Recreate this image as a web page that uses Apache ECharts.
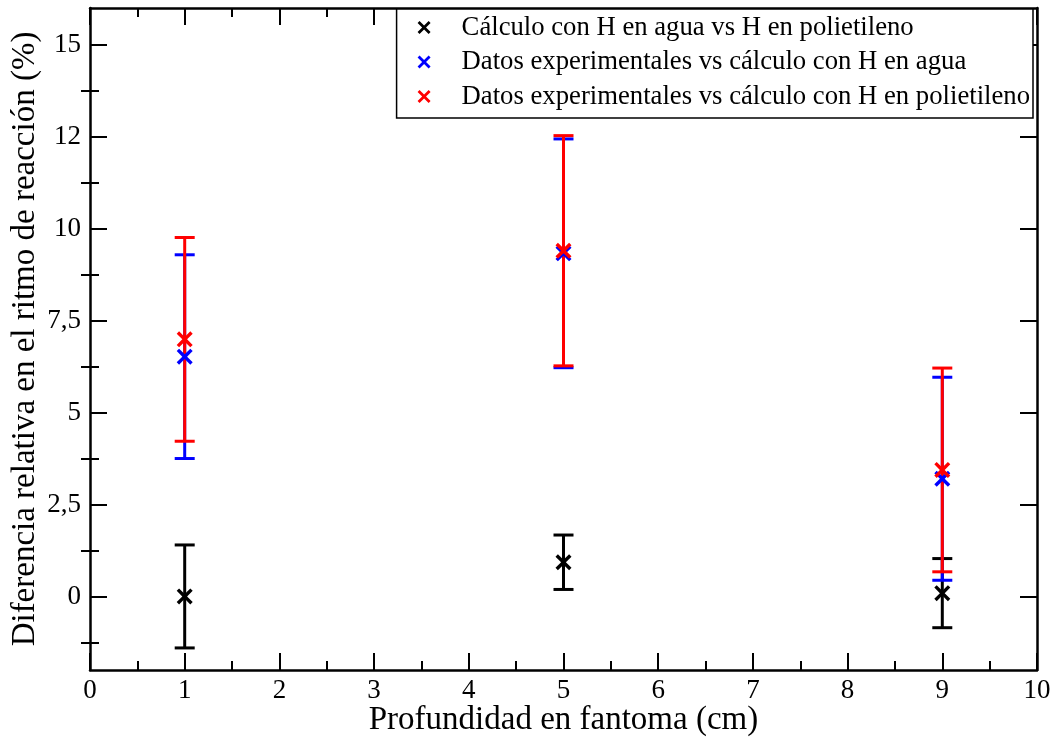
<!DOCTYPE html>
<html>
<head>
<meta charset="utf-8">
<script src="https://cdn.jsdelivr.net/npm/echarts@6/dist/echarts.min.js"></script>
<style>
  html, body { margin: 0; padding: 0; background: #fff; }
  #chart { width: 1055px; height: 740px; }
</style>
</head>
<body>
<div id="chart"></div>
<script>
// Depth in the phantom (cm)
const depth = [1, 5, 9];

// H in water vs H in polyethylene (calculation)
const calcVal = [0.0, 0.93, 0.09];
const calcErr = [1.40, 0.74, 0.94];

// Experimental vs calculation with H in water
const aguaVal = [6.52, 9.33, 3.20];
const aguaErr = [2.77, 3.11, 2.76];

// Experimental vs calculation with H in polyethylene
const polyVal = [6.99, 9.40, 3.44];
const polyErr = [2.77, 3.13, 2.77];

// Axis tick positions
const yMajor = [0, 2.5, 5, 7.5, 10, 12.5, 15];
const yMinor = [-1.25, 1.25, 3.75, 6.25, 8.75, 11.25, 13.75];
const yLabels = { '0': '0', '2.5': '2,5', '5': '5', '7.5': '7,5', '10': '10', '12.5': '12', '15': '15' };

const seriesNames = [
  'Cálculo con H en agua vs H en polietileno',
  'Datos experimentales vs cálculo con H en agua',
  'Datos experimentales vs cálculo con H en polietileno'
];
const colors = ['#000000', '#0000ff', '#ff0000'];

const FONT = 'Liberation Serif';
// Thick "x" cross drawn as a filled outline
const CROSS = 'path://M0,1.5L1.5,0L5,3.5L8.5,0L10,1.5L6.5,5L10,8.5L8.5,10L5,6.5L1.5,10L0,8.5L3.5,5Z';

function zipPoints(vals, errs) {
  return depth.map((d, i) => [d, vals[i], errs[i]]);
}

function errorBarSeries(name, vals, errs, color) {
  return {
    type: 'custom',
    name: name + ' err',
    data: zipPoints(vals, errs),
    encode: { x: 0, y: 1 },
    silent: true,
    renderItem: function (params, api) {
      const x = api.value(0), v = api.value(1), e = api.value(2);
      const top = api.coord([x, v + e]);
      const bot = api.coord([x, v - e]);
      const hw = 10;
      const style = { stroke: color, lineWidth: 3, fill: null };
      return {
        type: 'group',
        children: [
          { type: 'line', shape: { x1: top[0], y1: top[1], x2: bot[0], y2: bot[1] }, style: style },
          { type: 'line', shape: { x1: top[0] - hw, y1: top[1], x2: top[0] + hw, y2: top[1] }, style: style },
          { type: 'line', shape: { x1: bot[0] - hw, y1: bot[1], x2: bot[0] + hw, y2: bot[1] }, style: style }
        ]
      };
    }
  };
}

function markerSeries(name, vals, color) {
  return {
    type: 'scatter',
    name: name,
    data: depth.map((d, i) => [d, vals[i]]),
    symbol: CROSS,
    symbolSize: 16,
    itemStyle: { color: color, opacity: 1 },
    emphasis: { disabled: true }
  };
}

const tickLine = { color: '#000', width: 2 };
const axisLine = { show: true, onZero: false, lineStyle: { color: '#000', width: 2.5 } };

function xAxisDef(position, showLabels) {
  return {
    type: 'value', min: 0, max: 10, interval: 1, position: position,
    axisLine: axisLine,
    axisTick: { show: true, inside: true, length: 17, lineStyle: tickLine },
    minorTick: { show: true, splitNumber: 2, length: 9, lineStyle: tickLine },
    splitLine: { show: false },
    axisLabel: { show: showLabels, color: '#000', fontFamily: FONT, fontSize: 27, margin: 7 },
    name: showLabels ? 'Profundidad en fantoma (cm)' : '',
    nameLocation: 'middle', nameGap: 34, nameMoveOverlap: false,
    nameTextStyle: { color: '#000', fontFamily: FONT, fontSize: 33, verticalAlign: 'top' }
  };
}

function yAxisDef(position, values, len, showLabels, showLine) {
  return {
    type: 'value', min: -2, max: 16, position: position, offset: 0,
    axisLine: showLine ? axisLine : { show: false },
    axisTick: { show: true, inside: true, length: len, lineStyle: tickLine, customValues: values },
    splitLine: { show: false },
    axisLabel: {
      show: showLabels, color: '#000', fontFamily: FONT, fontSize: 27, margin: 9,
      customValues: values,
      formatter: v => (yLabels[String(v)] !== undefined ? yLabels[String(v)] : '')
    },
    name: showLabels ? 'Diferencia relativa en el ritmo de reacción (%)' : '',
    nameLocation: 'middle', nameGap: 48, nameRotate: 90, nameMoveOverlap: false,
    nameTextStyle: { color: '#000', fontFamily: FONT, fontSize: 33 }
  };
}

const chart = echarts.init(document.getElementById('chart'), null, { renderer: 'canvas' });

chart.setOption({
  animation: false,
  backgroundColor: '#fff',
  grid: { left: 90, right: 18, top: 8, bottom: 70, containLabel: false, outerBoundsMode: 'none' },
  xAxis: [xAxisDef('bottom', true), xAxisDef('top', false)],
  yAxis: [
    yAxisDef('left', yMajor, 17, true, true),
    yAxisDef('left', yMinor, 9, false, false),
    yAxisDef('right', yMajor, 17, false, true),
    yAxisDef('right', yMinor, 9, false, false)
  ],
  legend: {
    data: seriesNames,
    orient: 'vertical',
    right: 22, top: 9,
    backgroundColor: '#fff',
    borderColor: '#000', borderWidth: 1.5, borderRadius: 0,
    padding: [5, 3, 8, 21],
    itemWidth: 13, itemHeight: 13, itemGap: 7.5,
    icon: CROSS,
    selectedMode: false,
    textStyle: { color: '#000', fontFamily: FONT, fontSize: 26.7, lineHeight: 27, padding: [0, 0, 0, 26] }
  },
  series: [
    errorBarSeries(seriesNames[0], calcVal, calcErr, colors[0]),
    markerSeries(seriesNames[0], calcVal, colors[0]),
    errorBarSeries(seriesNames[1], aguaVal, aguaErr, colors[1]),
    markerSeries(seriesNames[1], aguaVal, colors[1]),
    errorBarSeries(seriesNames[2], polyVal, polyErr, colors[2]),
    markerSeries(seriesNames[2], polyVal, colors[2])
  ]
});
</script>
</body>
</html>
